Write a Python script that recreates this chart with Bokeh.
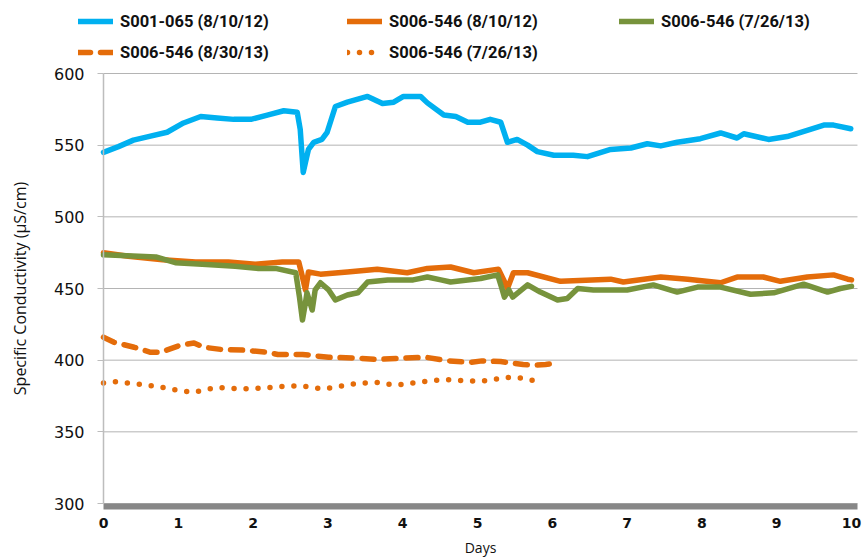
from bokeh.plotting import figure
from bokeh.models import Range1d, FixedTicker, Legend, LegendItem
from bokeh.embed import file_html
from bokeh.resources import INLINE

# ---- data ----
days_s001_081012 = [0.0, 0.2, 0.4, 0.6, 0.85, 1.07, 1.3, 1.52, 1.74, 1.97, 2.19, 2.41, 2.59, 2.63, 2.67,
                    2.70, 2.74, 2.81, 2.92, 2.99, 3.10, 3.26, 3.53, 3.73, 3.88, 4.01, 4.24, 4.33, 4.55,
                    4.71, 4.87, 5.04, 5.17, 5.31, 5.40, 5.53, 5.67, 5.80, 6.02, 6.28, 6.47, 6.78, 7.05,
                    7.27, 7.45, 7.67, 7.98, 8.25, 8.47, 8.56, 8.89, 9.14, 9.45, 9.63, 9.76, 9.99]
cond_s001_081012 = [545, 549, 553.5, 556, 559, 565.5, 570, 569, 568, 568, 571, 574, 573, 561, 531,
                    538, 547, 552, 554, 559, 577, 580, 584, 579, 580, 584, 584, 579.5, 571,
                    570, 566, 566, 568, 566, 552, 554, 550, 545.5, 543, 543, 542, 547, 548,
                    551, 549.5, 552, 554.5, 558.5, 555, 558, 554, 556, 561, 564, 564, 561.5]

days_s006_081012 = [0.0, 0.33, 0.79, 1.23, 1.67, 2.03, 2.39, 2.61, 2.66, 2.70, 2.74, 2.90, 3.26, 3.66,
                    4.06, 4.33, 4.64, 4.95, 5.28, 5.35, 5.40, 5.48, 5.67, 6.11, 6.78, 6.95, 7.45, 7.81,
                    8.25, 8.47, 8.82, 9.05, 9.41, 9.76, 9.95, 10.0]
cond_s006_081012 = [475, 472.5, 470, 468.5, 468.5, 467, 468.5, 468.5, 458, 449, 461.5, 460, 461.5, 463.5,
                    461, 464, 465, 461, 463.5, 456, 450, 461, 461, 455, 456.5, 454.5, 458, 456.5,
                    454, 458, 458, 455, 458, 459.5, 456.5, 456]

days_s006_072613 = [0.0, 0.47, 0.70, 0.96, 1.32, 1.76, 2.07, 2.30, 2.57, 2.62, 2.66, 2.70, 2.72, 2.79,
                    2.83, 2.90, 3.01, 3.10, 3.26, 3.40, 3.53, 3.80, 4.14, 4.33, 4.51, 4.64, 5.04, 5.27,
                    5.32, 5.36, 5.42, 5.47, 5.67, 5.84, 6.07, 6.20, 6.34, 6.55, 7.0, 7.35, 7.67, 7.94,
                    8.25, 8.65, 8.96, 9.36, 9.68, 9.85, 10.0]
cond_s006_072613 = [473.5, 472.5, 472, 468, 467, 465.5, 464, 464, 461, 444, 428, 440, 447, 435,
                    449, 454, 449, 442, 445.5, 447, 454.5, 456, 456, 458, 456, 454.5, 457, 459.5,
                    451, 444, 449, 444, 452.5, 447.5, 442, 443, 450, 449, 449, 452.5, 447.5, 451,
                    451, 446, 447, 453, 447.5, 450, 451.5]

days_s006_083013 = [0.0, 0.14, 0.41, 0.63, 0.76, 1.03, 1.21, 1.34, 1.57, 1.88, 2.19, 2.33, 2.66, 3.01,
                    3.36, 3.66, 4.01, 4.31, 4.61, 4.91, 5.06, 5.31, 5.61, 5.76, 5.91, 6.0]
cond_s006_083013 = [416, 412.5, 409, 405.5, 405.5, 410.5, 412, 409, 407.5, 407, 405.5, 404, 404, 402,
                    401.5, 400.5, 401.5, 402, 399.5, 398.5, 399.5, 399, 397, 396.5, 397, 397.5]

days_s006_072613b = [0.0, 0.18, 0.34, 0.52, 0.67, 0.84, 1.0, 1.18, 1.34, 1.50, 1.67, 1.85, 2.0, 2.17,
                     2.28, 2.45, 2.64, 2.80, 2.91, 3.08, 3.24, 3.40, 3.54, 3.70, 3.84, 4.02, 4.19, 4.36,
                     4.53, 4.73, 4.90, 5.06, 5.22, 5.38, 5.57, 5.71, 5.89]
cond_s006_072613b = [384, 385, 384, 383, 382, 380.5, 379, 377.5, 379, 381, 380.5, 380, 380, 381,
                     381, 382, 382, 381, 380, 381, 382.5, 384, 384, 384.5, 383, 383, 384.5, 385.5,
                     386.5, 386, 385.5, 385.5, 386.5, 388, 387.5, 386, 386]

labels = ["S001-065 (8/10/12)", "S006-546 (8/10/12)", "S006-546 (7/26/13)",
          "S006-546 (8/30/13)", "S006-546 (7/26/13)"]
x_ticks = [0, 1, 2, 3, 4, 5, 6, 7, 8, 9, 10]
y_ticks = [300, 350, 400, 450, 500, 550, 600]
X_MIN, X_MAX = 0, 10.08      # extent of the plotting area (days)
Y_MIN, Y_MAX = 300, 600      # extent of the plotting area (uS/cm)

BLUE = "#00B0F0"
ORANGE = "#E46C0A"
GREEN = "#77933C"
LW = 5.5
styles = [dict(line_color=BLUE, line_width=LW),
          dict(line_color=ORANGE, line_width=LW),
          dict(line_color=GREEN, line_width=LW),
          dict(line_color=ORANGE, line_width=LW, line_dash="12 10"),
          dict(line_color=ORANGE, line_width=LW, line_dash="0 12")]

# page geometry: plot area from px 103..857 (x) and 73..503 (y)
W, H = 864, 560
PX_PER_DAY = 74.8
PX_PER_UNIT = 430 / 300.0
x_rng = Range1d(X_MIN - 103 / PX_PER_DAY, X_MIN + (W - 103) / PX_PER_DAY)
y_rng = Range1d(Y_MIN - (H - 503) / PX_PER_UNIT, Y_MIN + 503 / PX_PER_UNIT)

p = figure(width=W, height=H, output_backend="svg", toolbar_location=None,
           x_range=x_rng, y_range=y_rng,
           min_border_left=0, min_border_right=0, min_border_top=0, min_border_bottom=0)
p.outline_line_color = None
p.xgrid.grid_line_color = None
p.ygrid.grid_line_color = None

# horizontal grid lines at the y ticks, across the plotting area
p.segment(x0=[X_MIN] * len(y_ticks), x1=[X_MAX] * len(y_ticks), y0=y_ticks, y1=y_ticks,
          line_color="#B4B4B4", line_width=1)

series = [(days_s001_081012, cond_s001_081012), (days_s006_081012, cond_s006_081012),
          (days_s006_072613, cond_s006_072613), (days_s006_083013, cond_s006_083013),
          (days_s006_072613b, cond_s006_072613b)]
rends = []
for (xs, ys), st in zip(series, styles):
    rends.append(p.line(xs, ys, line_join="round", line_cap="round", **st))

# y axis, pinned at day 0
ya = p.yaxis[0]
ya.fixed_location = X_MIN
ya.bounds = (Y_MIN, Y_MAX)
ya.ticker = FixedTicker(ticks=y_ticks)
ya.axis_line_color = "#BDBDBD"
ya.axis_line_width = 1.5
ya.major_tick_line_color = "#BDBDBD"
ya.major_tick_out = 6
ya.major_tick_in = 0
ya.minor_tick_line_color = None
ya.major_label_standoff = 13
ya.major_label_text_font = "DejaVu Sans"
ya.major_label_text_font_size = "16px"
ya.major_label_text_color = "#111111"
ya.axis_label = "Specific Conductivity (\u00b5S/cm)"
ya.axis_label_text_font = "Open Sans"
ya.axis_label_text_font_style = "normal"
ya.axis_label_text_font_size = "16px"
ya.axis_label_text_color = "#111111"
ya.axis_label_standoff = 20

# x axis, pinned just under the 300 line (thick grey bar)
xa = p.xaxis[0]
xa.fixed_location = Y_MIN - 3 / PX_PER_UNIT
xa.bounds = (X_MIN, X_MAX)
xa.ticker = FixedTicker(ticks=x_ticks)
xa.axis_line_color = "#878787"
xa.axis_line_width = 6
xa.major_tick_line_color = None
xa.minor_tick_line_color = None
xa.major_tick_out = 0
xa.major_label_standoff = 11
xa.major_label_text_font = "DejaVu Sans"
xa.major_label_text_font_style = "bold"
xa.major_label_text_font_size = "14px"
xa.major_label_text_color = "#111111"
xa.axis_label = "Days"
xa.axis_label_text_font = "Open Sans"
xa.axis_label_text_font_style = "normal"
xa.axis_label_text_font_size = "14px"
xa.axis_label_text_color = "#111111"
xa.axis_label_standoff = 7


def add_legend(idx, loc):
    leg = Legend(items=[LegendItem(label=labels[i], renderers=[rends[i]]) for i in idx],
                 location=loc, orientation="vertical", spacing=11,
                 glyph_width=35, glyph_height=20, label_height=20, label_standoff=7,
                 padding=0, margin=0, border_line_alpha=0, background_fill_alpha=0,
                 label_text_font="Roboto", label_text_font_style="bold",
                 label_text_font_size="16.5px", label_text_color="#111111")
    p.add_layout(leg)


add_legend([0, 3], (78, H - 62))
add_legend([1, 4], (347, H - 62))
add_legend([2], (619, H - 31))

open("out.html", "w").write(file_html(p, INLINE))
